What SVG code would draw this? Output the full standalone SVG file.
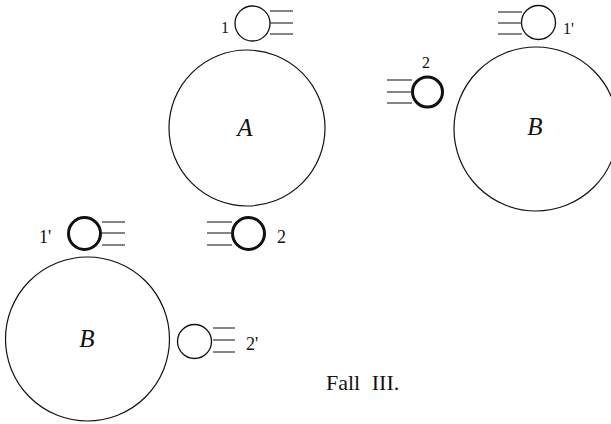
<svg xmlns="http://www.w3.org/2000/svg" width="611" height="424" viewBox="0 0 611 424">
<style>
.big{fill:none;stroke:#111;stroke-width:1.2}
.thin{fill:none;stroke:#111;stroke-width:1.3}
.bold{fill:none;stroke:#111;stroke-width:3}
.ln{stroke:#333;stroke-width:1.2}
text{font-family:'Liberation Serif','Times New Roman','DejaVu Serif',serif;fill:#111}
.it{font-style:italic;text-anchor:middle}
</style>
<rect width="611" height="424" fill="#fff"/>
<g id="A">
<circle class="big" cx="247" cy="128" r="78"/>
<text class="it" x="245" y="136" font-size="25" font-family="Liberation Serif, serif">A</text>
</g>
<g id="B_right">
<circle class="big" cx="536" cy="129" r="82"/>
<text class="it" x="535" y="135" font-size="25" font-family="Liberation Serif, serif">B</text>
</g>
<g id="B_left">
<circle class="big" cx="87.5" cy="339" r="82"/>
<text class="it" x="87" y="347" font-size="25" font-family="Liberation Serif, serif">B</text>
</g>
<g id="p1">
<circle class="thin" cx="252.5" cy="23.5" r="17.5"/>
<text x="221" y="33" font-size="16" font-family="Liberation Serif, serif">1</text>
</g>
<g id="p1r">
<circle class="thin" cx="538.5" cy="22.5" r="17"/>
<text x="563" y="34" font-size="16" font-family="Liberation Serif, serif">1'</text>
</g>
<g id="p2r">
<circle class="bold" cx="427.5" cy="92" r="15"/>
<text x="422" y="68" font-size="16" font-family="Liberation Serif, serif">2</text>
</g>
<g id="p1l">
<circle class="bold" cx="84.5" cy="233.5" r="16"/>
<text x="39" y="243" font-size="18" font-family="Liberation Serif, serif">1'</text>
</g>
<g id="p2l">
<circle class="bold" cx="248.5" cy="233.5" r="16"/>
<text x="277" y="243" font-size="18" font-family="Liberation Serif, serif">2</text>
</g>
<g id="p2p">
<circle class="thin" cx="194.5" cy="341.5" r="17"/>
<text x="246" y="350" font-size="18" font-family="Liberation Serif, serif">2'</text>
</g>
<g id="connectors">
<line class="ln" x1="270" y1="11" x2="293" y2="11"/>
<line class="ln" x1="270" y1="23" x2="293" y2="23"/>
<line class="ln" x1="270" y1="34" x2="293" y2="34"/>
<line class="ln" x1="498" y1="12" x2="522" y2="12"/>
<line class="ln" x1="498" y1="23" x2="522" y2="23"/>
<line class="ln" x1="498" y1="34" x2="522" y2="34"/>
<line class="ln" x1="387" y1="80" x2="412" y2="80"/>
<line class="ln" x1="387" y1="92" x2="412" y2="92"/>
<line class="ln" x1="387" y1="103" x2="412" y2="103"/>
<line class="ln" x1="102" y1="222" x2="125" y2="222"/>
<line class="ln" x1="102" y1="233" x2="125" y2="233"/>
<line class="ln" x1="102" y1="245" x2="125" y2="245"/>
<line class="ln" x1="207" y1="222" x2="232" y2="222"/>
<line class="ln" x1="207" y1="233" x2="232" y2="233"/>
<line class="ln" x1="207" y1="245" x2="232" y2="245"/>
<line class="ln" x1="213" y1="328" x2="235" y2="328"/>
<line class="ln" x1="213" y1="340" x2="235" y2="340"/>
<line class="ln" x1="213" y1="352" x2="235" y2="352"/>
</g>
<text x="326" y="390" font-size="22" word-spacing="6" font-family="Liberation Serif, serif">Fall III.</text>
</svg>
